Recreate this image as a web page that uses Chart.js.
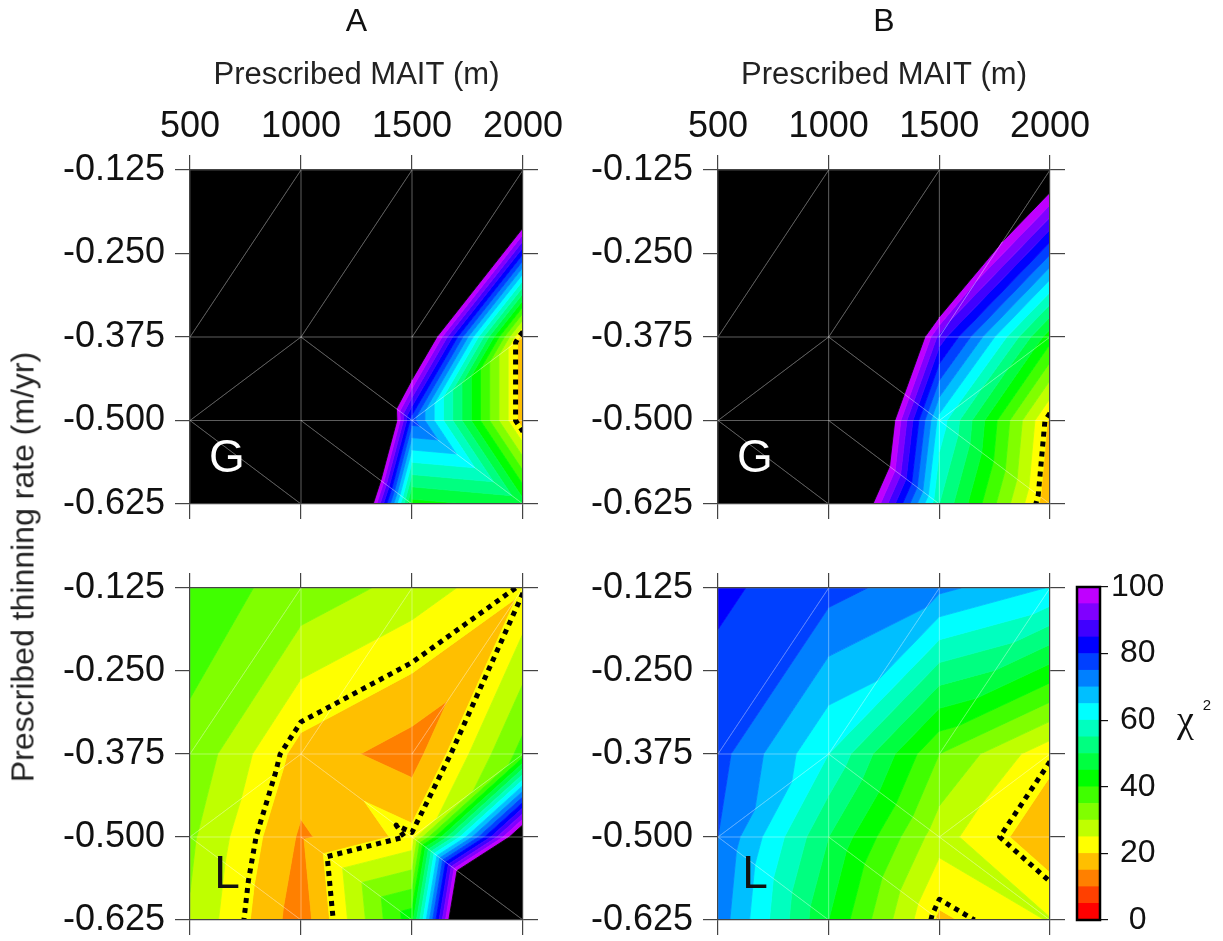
<!DOCTYPE html>
<html>
<head>
<meta charset="utf-8">
<title>Chi-squared misfit, MAIT vs thinning rate</title>
<script src="https://cdn.jsdelivr.net/npm/chart.js@4.4.1/dist/chart.umd.min.js"></script>
<style>
  html, body { margin: 0; padding: 0; background: #fff; }
  #page { position: relative; width: 1223px; height: 941px; overflow: hidden; }
  .box { position: absolute; }
  #ytitle {
    position: absolute; left: 23px; top: 567px;
    transform: translate(-50%, -50%) rotate(-90deg);
    white-space: nowrap; color: #222;
    font: 32px 'Liberation Sans', Arial, sans-serif;
  }
</style>
</head>
<body>
<div id="page">
  <div class="box" style="left:0;top:0;width:580px;height:530px"><canvas id="chartGA"></canvas></div>
  <div class="box" style="left:540px;top:0;width:560px;height:530px"><canvas id="chartGB"></canvas></div>
  <div class="box" style="left:0;top:540px;width:580px;height:400px"><canvas id="chartLA"></canvas></div>
  <div class="box" style="left:540px;top:540px;width:560px;height:400px"><canvas id="chartLB"></canvas></div>
  <div class="box" style="left:1040px;top:560px;width:180px;height:390px"><canvas id="chartBar"></canvas></div>
  <div id="ytitle">Prescribed thinning rate (m/yr)</div>
</div>
<script>
// model runs
const maitX = [500, 1000, 1500, 2000];          // prescribed MAIT (m)
const rateY = [-0.125, -0.375, -0.5, -0.625];   // prescribed thinning rate (m/yr)
const maitTicks = [500, 1000, 1500, 2000];
const rateTicks = [-0.125, -0.25, -0.375, -0.5, -0.625];

// chi^2 of each run, rows follow rateY, columns follow maitX
const chiGA = [
  [400, 350, 300, 144],
  [350, 241, 124, 17],
  [300, 246, 77, 17],
  [300, 206, 43, 47]
];
const chiGB = [
  [400, 350, 188, 109],
  [350, 180, 88, 42],
  [300, 155, 63, 19],
  [300, 130, 55, 16]
];
const chiLA = [
  [37, 33.5, 28, 20.5],
  [34, 18, 12.4, 37],
  [31, 14.2, 21.5, 111],
  [29.5, 12, 43, 215]
];
const chiLB = [
  [81, 77, 71.3, 64.7],
  [77, 60, 35, 21.5],
  [75, 50, 27, 16],
  [73, 45, 19, 25.3]
];

// colour scale
const chiLevels = [0, 5, 10, 15, 20, 25, 30, 35, 40, 45, 50, 55, 60, 65, 70, 75, 80, 85, 90, 95, 100];
const bandColors = [
  '#ff0000', '#ff4000', '#ff8000', '#ffbf00', '#ffff00',
  '#bfff00', '#80ff00', '#40ff00', '#00ff00', '#00ff40',
  '#00ff80', '#00ffbf', '#00ffff', '#00bfff', '#0080ff',
  '#0040ff', '#0000ff', '#4000ff', '#8000ff', '#bf00ff'
];
const offScale = '#000000';
const dottedLevel = 21;
const barTicks = [0, 10, 20, 30, 40, 50, 60, 70, 80, 90, 100];
const barLabels = [0, 20, 40, 60, 80, 100];

// triangulation of the run grid (node = row * 4 + col), same in every panel
const mesh = [
  [0, 1, 4], [1, 5, 4], [1, 2, 5], [2, 6, 5], [2, 3, 6], [3, 7, 6],
  [4, 5, 8], [5, 9, 8], [5, 6, 10], [5, 10, 9], [6, 7, 10], [7, 11, 10],
  [8, 9, 13], [8, 13, 12], [9, 10, 14], [9, 14, 13], [10, 11, 15], [10, 15, 14]
];

const FONT = "'Liberation Sans', Arial, sans-serif";
Chart.defaults.font.family = FONT;
Chart.defaults.color = '#111';

const lerpPt = (p, q, t) => ({
  px: p.px + (q.px - p.px) * t,
  py: p.py + (q.py - p.py) * t,
  v: p.v + (q.v - p.v) * t
});

// keep the part of a polygon above (or below) a level, values linear along edges
function clipPoly(poly, lvl, keepAbove) {
  const out = [];
  poly.forEach((p, i) => {
    const q = poly[(i + 1) % poly.length];
    const pin = keepAbove ? p.v >= lvl : p.v <= lvl;
    const qin = keepAbove ? q.v >= lvl : q.v <= lvl;
    if (pin) out.push(p);
    if (pin !== qin) out.push(lerpPt(p, q, (lvl - p.v) / (q.v - p.v)));
  });
  return out;
}

const contourPlugin = {
  id: 'contour',
  beforeDatasetsDraw(chart, args, opts) {
    const { ctx, chartArea: area, scales } = chart;
    const pts = chart.data.datasets[0].data.map(d => ({
      px: scales.x.getPixelForValue(d.x),
      py: scales.y.getPixelForValue(d.y),
      v: d.v
    }));
    const bands = bandColors.map((c, k) => [chiLevels[k], chiLevels[k + 1], c]);
    bands.push([chiLevels[chiLevels.length - 1], Infinity, offScale]);

    ctx.save();
    ctx.beginPath();
    ctx.rect(area.left, area.top, area.width, area.height);
    ctx.clip();

    // filled bands
    ctx.lineWidth = 0.8;
    ctx.lineJoin = 'round';
    mesh.forEach(tri => {
      const poly = tri.map(n => pts[n]);
      bands.forEach(([lo, hi, col]) => {
        const part = clipPoly(clipPoly(poly, lo, true), hi, false);
        if (part.length < 3) return;
        ctx.beginPath();
        part.forEach((p, i) => i ? ctx.lineTo(p.px, p.py) : ctx.moveTo(p.px, p.py));
        ctx.closePath();
        ctx.fillStyle = col;
        ctx.strokeStyle = col;
        ctx.fill();
        ctx.stroke();
      });
    });

    // faint triangulation lines
    ctx.strokeStyle = 'rgba(255,255,255,0.2)';
    ctx.lineWidth = 1;
    ctx.beginPath();
    mesh.forEach(tri => tri.forEach((n, i) => {
      const m = tri[(i + 1) % 3];
      ctx.moveTo(pts[n].px, pts[n].py);
      ctx.lineTo(pts[m].px, pts[m].py);
    }));
    ctx.stroke();

    // dotted contour, segments chained so the dash runs on
    const pos = {}, adj = {};
    mesh.forEach(tri => {
      const hits = [];
      tri.forEach((a, i) => {
        const b = tri[(i + 1) % 3];
        const va = pts[a].v, vb = pts[b].v;
        if ((va - dottedLevel) * (vb - dottedLevel) < 0) {
          const key = Math.min(a, b) + '-' + Math.max(a, b);
          pos[key] = lerpPt(pts[a], pts[b], (dottedLevel - va) / (vb - va));
          hits.push(key);
        }
      });
      if (hits.length === 2) {
        (adj[hits[0]] = adj[hits[0]] || []).push(hits[1]);
        (adj[hits[1]] = adj[hits[1]] || []).push(hits[0]);
      }
    });
    const used = new Set();
    const link = (a, b) => a < b ? a + '|' + b : b + '|' + a;
    ctx.strokeStyle = '#000';
    ctx.lineWidth = 5;
    ctx.lineCap = 'butt';
    ctx.setLineDash([5, 5]);
    Object.keys(adj).sort((a, b) => adj[a].length - adj[b].length).forEach(start => {
      let cur = start;
      const path = [cur];
      for (;;) {
        const nxt = adj[cur].find(n => !used.has(link(cur, n)));
        if (nxt === undefined) break;
        used.add(link(cur, nxt));
        path.push(nxt);
        cur = nxt;
      }
      if (path.length < 2) return;
      ctx.beginPath();
      path.forEach((k, i) => i ? ctx.lineTo(pos[k].px, pos[k].py) : ctx.moveTo(pos[k].px, pos[k].py));
      ctx.stroke();
    });
    ctx.restore();

    // G / L tag
    ctx.save();
    ctx.font = '46px ' + FONT;
    ctx.fillStyle = opts.tagColor;
    ctx.textAlign = 'center';
    ctx.textBaseline = 'middle';
    ctx.fillText(opts.tag, area.left + 37, area.bottom - 45);
    ctx.restore();
  }
};

function panelNodes(chi) {
  const out = [];
  rateY.forEach((r, j) => maitX.forEach((m, i) => out.push({ x: m, y: r, v: chi[j][i] })));
  return out;
}

// fixed axis box sizes, no extra room for overhanging labels
const noPad = s => { s.paddingLeft = 0; s.paddingRight = 0; s.paddingTop = 0; s.paddingBottom = 0; };
const fixH = h => s => { s.height = h; noPad(s); };
const fixW = w => s => { s.width = w; noPad(s); };

function makePanel(id, chi, cfg) {
  const tickGrid = { drawOnChartArea: false, drawTicks: true, tickLength: 15, color: '#444', lineWidth: 1.2 };
  const frame = { display: true, color: '#444', width: 1.2, z: 1 };
  const setX = s => { s.ticks = maitTicks.map(v => ({ value: v })); };
  const setY = s => { s.ticks = rateTicks.map(v => ({ value: v })); };
  const blank = () => '';
  return new Chart(document.getElementById(id), {
    type: 'scatter',
    data: { datasets: [{ data: panelNodes(chi), pointRadius: 0, showLine: false }] },
    options: {
      animation: false,
      responsive: true,
      maintainAspectRatio: false,
      events: [],
      layout: { padding: 0 },
      plugins: {
        legend: { display: false },
        tooltip: { enabled: false },
        title: {
          display: !!cfg.letter, text: cfg.letter || '', fullSize: false, color: '#111',
          font: { size: 32, weight: 'normal', lineHeight: '38px' },
          padding: { top: 3, bottom: 1 }
        },
        contour: { tag: cfg.tag, tagColor: cfg.tagColor }
      },
      scales: {
        x: {
          type: 'linear', position: 'top', min: 500, max: 2000,
          afterBuildTicks: setX, afterFit: fixH(cfg.topH),
          grid: tickGrid, border: frame,
          ticks: { font: { size: 36 }, padding: 6, color: '#111', callback: cfg.letter ? (v => String(v)) : blank },
          title: {
            display: !!cfg.letter, text: 'Prescribed MAIT (m)', color: '#222',
            font: { size: 31, lineHeight: '36px' }, padding: { top: 15, bottom: 0 }
          }
        },
        x2: {
          type: 'linear', position: 'bottom', min: 500, max: 2000,
          afterBuildTicks: setX, afterFit: fixH(cfg.bottomH),
          grid: tickGrid, border: frame, ticks: { callback: blank }
        },
        y: {
          type: 'linear', position: 'left', min: -0.625, max: -0.125,
          afterBuildTicks: setY, afterFit: fixW(cfg.leftW),
          grid: tickGrid, border: frame,
          ticks: { font: { size: 36 }, padding: 10, color: '#111', callback: v => v.toFixed(3) }
        },
        y2: {
          type: 'linear', position: 'right', min: -0.625, max: -0.125,
          afterBuildTicks: setY, afterFit: fixW(cfg.rightW),
          grid: tickGrid, border: frame, ticks: { callback: blank }
        }
      }
    },
    plugins: [contourPlugin]
  });
}

makePanel('chartGA', chiGA, { letter: 'A', tag: 'G', tagColor: '#fff', leftW: 190, rightW: 57, topH: 128, bottomH: 26 });
makePanel('chartGB', chiGB, { letter: 'B', tag: 'G', tagColor: '#fff', leftW: 178, rightW: 50, topH: 128, bottomH: 26 });
makePanel('chartLA', chiLA, { tag: 'L', tagColor: '#111', leftW: 190, rightW: 57, topH: 48, bottomH: 20 });
makePanel('chartLB', chiLB, { tag: 'L', tagColor: '#111', leftW: 178, rightW: 50, topH: 48, bottomH: 20 });

// colour bar
const barFrame = {
  id: 'barFrame',
  afterDatasetsDraw(chart) {
    const { ctx, chartArea: a } = chart;
    ctx.save();
    ctx.strokeStyle = '#000';
    ctx.lineWidth = 2.5;
    ctx.strokeRect(a.left, a.top, a.width, a.height);
    ctx.fillStyle = '#111';
    ctx.textAlign = 'left';
    ctx.textBaseline = 'middle';
    ctx.font = "38px 'Liberation Serif', 'DejaVu Serif', serif";
    const xChi = a.right + 77, yChi = a.top + 135;
    ctx.fillText('\u03c7', xChi, yChi);
    const w = ctx.measureText('\u03c7').width;
    ctx.font = '15px ' + FONT;
    ctx.fillText('2', xChi + w + 9, yChi - 16);
    ctx.restore();
  }
};

new Chart(document.getElementById('chartBar'), {
  type: 'bar',
  data: {
    labels: ['chi2'],
    datasets: bandColors.map((c, k) => ({
      data: [chiLevels[k + 1] - chiLevels[k]],
      backgroundColor: c, borderWidth: 0,
      barPercentage: 1, categoryPercentage: 1
    }))
  },
  options: {
    animation: false,
    responsive: true,
    maintainAspectRatio: false,
    events: [],
    layout: { padding: { left: 37, top: 27, bottom: 30, right: 0 } },
    plugins: { legend: { display: false }, tooltip: { enabled: false } },
    scales: {
      x: { stacked: true, display: false },
      y: {
        stacked: true, position: 'right', min: 0, max: 100,
        afterBuildTicks: s => { s.ticks = barTicks.map(v => ({ value: v })); },
        afterFit: fixW(120),
        grid: { drawOnChartArea: false, tickLength: 8, color: '#111', lineWidth: 1.2 },
        border: { display: false },
        ticks: {
          font: { size: 32 }, padding: 3, crossAlign: 'center', color: '#111',
          callback: v => barLabels.includes(v) ? String(v) : ''
        }
      }
    }
  },
  plugins: [barFrame]
});
</script>
</body>
</html>
